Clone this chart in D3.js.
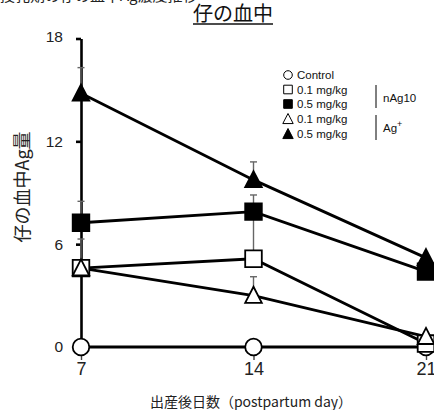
<!DOCTYPE html>
<html>
<head>
<meta charset="utf-8">
<script src="https://cdn.jsdelivr.net/npm/d3@7"></script>
<style>
  body { margin: 0; background: #fff; }
  svg { display: block; }
  text { font-family: "Liberation Sans", Arial, sans-serif; }
  .jp { font-family: "Noto Sans CJK JP", sans-serif; }
</style>
</head>
<body>
<svg id="chart" width="434" height="410"></svg>
<script>
// Postpartum days sampled
const days = [7, 14, 21];

// Mean pup blood Ag level per group
const control = [0, 0, 0];
const nAg01 = [4.6, 5.15, 0.2];
const nAg05 = [7.25, 7.9, 4.4];
const ag01 = [4.6, 3.0, 0.6];
const ag05 = [14.8, 9.75, 5.2];

// Upper SD per group
const controlErr = [0, 0, 0];
const nAg01Err = [1.7, 2.5, 0];
const nAg05Err = [1.25, 0.97, 0];
const ag01Err = [0, 1.1, 0];
const ag05Err = [1.5, 1.05, 0];

const yTicks = [0, 6, 12, 18];

const series = [
  { name: "Control", values: control, err: controlErr, shape: "circle", fill: "#fff" },
  { name: "0.1 mg/kg", values: nAg01, err: nAg01Err, shape: "square", fill: "#fff" },
  { name: "0.5 mg/kg", values: nAg05, err: nAg05Err, shape: "square", fill: "#000" },
  { name: "0.1 mg/kg", values: ag01, err: ag01Err, shape: "triangle", fill: "#fff" },
  { name: "0.5 mg/kg", values: ag05, err: ag05Err, shape: "triangle", fill: "#000" }
];

const svg = d3.select("#chart");
const x = d3.scaleLinear().domain([7, 21]).range([81, 426]);
const y = d3.scaleLinear().domain([0, 18]).range([347, 38.5]);

// marker paths scaled by s (half-width)
function markerPath(shape, s) {
  if (shape === "circle") {
    return d3.symbol(d3.symbolCircle, Math.PI * s * s)();
  }
  if (shape === "square") {
    return `M${-s},${-s}H${s}V${s}H${-s}Z`;
  }
  return `M0,${-s * 1.06}L${s},${s * 0.88}L${-s},${s * 0.88}Z`;
}

// heading line above the chart (runs off the top edge)
svg.append("text").attr("class", "jp")
  .attr("x", 0).attr("y", 1)
  .attr("font-size", 15).attr("fill", "#222")
  .text("授乳期の仔の血中Ag濃度推移");

// title
const title = svg.append("text").attr("class", "jp")
  .attr("x", 233).attr("y", 21)
  .attr("text-anchor", "middle")
  .attr("font-size", 20).attr("fill", "#111")
  .text("仔の血中");
const tb = title.node().getBBox();
svg.append("line")
  .attr("x1", tb.x).attr("x2", tb.x + tb.width)
  .attr("y1", 24).attr("y2", 24)
  .attr("stroke", "#111").attr("stroke-width", 1.3);

// y axis
const yAxis = svg.append("g")
  .attr("transform", `translate(${x(7)},0)`)
  .call(d3.axisLeft(y).tickValues(yTicks).tickSize(5).tickSizeOuter(0).tickPadding(13));
yAxis.select(".domain").attr("stroke", "#000").attr("stroke-width", 2.6);
yAxis.selectAll(".tick line").attr("stroke", "#000").attr("stroke-width", 2.6);
yAxis.selectAll(".tick text")
  .attr("font-size", 15.5).attr("fill", "#222")
  .attr("font-family", "Liberation Sans, Arial, sans-serif")
  .attr("dy", "0.32em");
yAxis.selectAll(".tick").filter(d => d === 18).select("text").attr("dy", "0.2em");

// x axis ticks and labels
const xAxis = svg.append("g")
  .attr("transform", `translate(0,${y(0)})`)
  .call(d3.axisBottom(x).tickValues(days).tickSize(13).tickPadding(2).tickFormat(d3.format("d")));
xAxis.select(".domain").remove();
xAxis.selectAll(".tick line").attr("stroke", "#444").attr("stroke-width", 1.4);
xAxis.selectAll(".tick text")
  .attr("font-size", 18).attr("fill", "#222")
  .attr("font-family", "Liberation Sans, Arial, sans-serif")
  .attr("y", 15);

// axis titles
svg.append("text").attr("class", "jp")
  .attr("transform", "translate(29,187) rotate(-90)")
  .attr("text-anchor", "middle")
  .attr("font-size", 18).attr("fill", "#222")
  .text("仔の血中Ag量");

svg.append("text").attr("class", "jp")
  .attr("x", 251).attr("y", 407)
  .attr("text-anchor", "middle")
  .attr("font-size", 14).attr("fill", "#222")
  .text("出産後日数（postpartum day）");

// error bars (upper)
const errG = svg.append("g");
series.forEach(s => {
  days.forEach((d, i) => {
    if (s.err[i] <= 0) return;
    const cx = x(d), top = y(s.values[i] + s.err[i]);
    errG.append("line")
      .attr("x1", cx).attr("x2", cx)
      .attr("y1", y(s.values[i])).attr("y2", top)
      .attr("stroke", "#666").attr("stroke-width", 1.4);
    errG.append("line")
      .attr("x1", cx - 3.5).attr("x2", cx + 3.5)
      .attr("y1", top).attr("y2", top)
      .attr("stroke", "#666").attr("stroke-width", 1.4);
  });
});

// series lines
const line = d3.line().x((d, i) => x(days[i])).y(d => y(d));
series.forEach(s => {
  svg.append("path")
    .datum(s.values)
    .attr("d", line)
    .attr("fill", "none")
    .attr("stroke", "#000")
    .attr("stroke-width", 2.8);
});

// markers
series.forEach(s => {
  svg.append("g").selectAll("path")
    .data(s.values)
    .join("path")
    .attr("transform", (d, i) => `translate(${x(days[i])},${y(d)})`)
    .attr("d", markerPath(s.shape, 8.3))
    .attr("fill", s.fill)
    .attr("stroke", "#000")
    .attr("stroke-width", 1.8);
});

// legend
const legend = svg.append("g");
const legendY = [75, 89.5, 104, 119, 134];
series.forEach((s, i) => {
  legend.append("path")
    .attr("transform", `translate(288,${legendY[i]})`)
    .attr("d", markerPath(s.shape, s.shape === "triangle" ? 5.2 : 4.3))
    .attr("fill", s.fill)
    .attr("stroke", "#000")
    .attr("stroke-width", 1);
  legend.append("text")
    .attr("x", 297).attr("y", legendY[i] + 4.2)
    .attr("font-size", 11.5).attr("fill", "#111")
    .text(s.name);
});

// group brackets
legend.append("line").attr("x1", 376).attr("x2", 376).attr("y1", 85).attr("y2", 108)
  .attr("stroke", "#000").attr("stroke-width", 1);
legend.append("text").attr("x", 383).attr("y", 102)
  .attr("font-size", 11.5).attr("fill", "#111").text("nAg10");
legend.append("line").attr("x1", 376).attr("x2", 376).attr("y1", 115).attr("y2", 140)
  .attr("stroke", "#000").attr("stroke-width", 1);
const agText = legend.append("text").attr("x", 383).attr("y", 132)
  .attr("font-size", 11.5).attr("fill", "#111");
agText.append("tspan").text("Ag");
agText.append("tspan").attr("dy", -5).attr("font-size", 9).text("+");
</script>
</body>
</html>
